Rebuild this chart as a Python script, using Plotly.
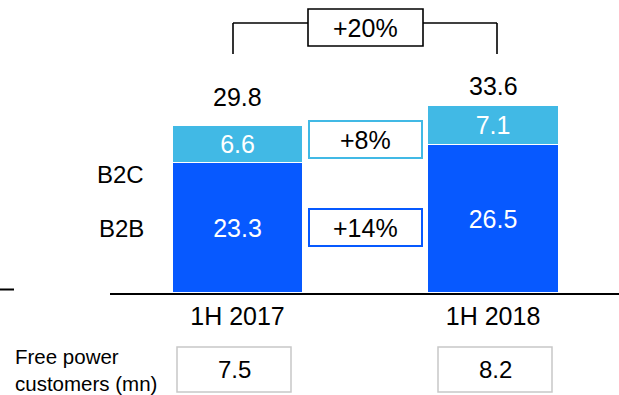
import plotly.graph_objects as go

# ---- data ----
categories = ["1H 2017", "1H 2018"]
b2b = [23.3, 26.5]
b2c = [6.6, 7.1]
totals = [29.8, 33.6]
growth_total = "+20%"
growth_b2c = "+8%"
growth_b2b = "+14%"
free_power = [7.5, 8.2]
free_power_label = "Free power<br>customers (mn)"

# ---- styling ----
W, H = 619, 395
ML, MR, MT, MB = 110, 0, 0, 102
FONT = "Liberation Sans, Arial, sans-serif"
C_B2B = "#0759FF"
C_B2C = "#41B9E5"
PW, PH = W - ML - MR, H - MT - MB


def px(x):
    return (x - ML) / PW


def py(y):
    return (H - MB - y) / PH


fig = go.Figure()
fig.add_trace(go.Bar(
    x=categories, y=b2b, name="B2B", marker=dict(color=C_B2B, line=dict(color="white", width=1.5)),
    text=[f"{v:.1f}" for v in b2b], textposition="inside", insidetextanchor="middle",
    constraintext="none", textfont=dict(color="white", size=25, family=FONT), width=0.513,
    hoverinfo="skip"))
fig.add_trace(go.Bar(
    x=categories, y=b2c, name="B2C", marker=dict(color=C_B2C, line=dict(color="white", width=1.5)),
    text=[f"{v:.1f}" for v in b2c], textposition="inside", insidetextanchor="middle",
    constraintext="none", textfont=dict(color="white", size=25, family=FONT), width=0.513,
    hoverinfo="skip"))

shapes = []
annotations = []

# totals above bars
for cat, t, ys in zip(categories, totals, [13, 3]):
    annotations.append(dict(x=cat, y=t, xref="x", yref="y", text=f"{t:.1f}", showarrow=False,
                            yanchor="bottom", yshift=ys, font=dict(size=25, color="black", family=FONT)))

# bracket for total growth
lw = 1.6
shapes += [
    dict(type="line", xref="paper", yref="paper", x0=px(233), x1=px(233), y0=py(54), y1=py(23),
         line=dict(color="black", width=lw)),
    dict(type="line", xref="paper", yref="paper", x0=px(497), x1=px(497), y0=py(54), y1=py(23),
         line=dict(color="black", width=lw)),
    dict(type="line", xref="paper", yref="paper", x0=px(233), x1=px(308), y0=py(23), y1=py(23),
         line=dict(color="black", width=lw)),
    dict(type="line", xref="paper", yref="paper", x0=px(423), x1=px(497), y0=py(23), y1=py(23),
         line=dict(color="black", width=lw)),
    dict(type="rect", xref="paper", yref="paper", x0=px(308), x1=px(423), y0=py(46), y1=py(9),
         line=dict(color="black", width=lw), fillcolor="white"),
    dict(type="rect", xref="paper", yref="paper", x0=px(309), x1=px(422), y0=py(158), y1=py(121),
         line=dict(color=C_B2C, width=2), fillcolor="white"),
    dict(type="rect", xref="paper", yref="paper", x0=px(309), x1=px(422), y0=py(246), y1=py(209),
         line=dict(color=C_B2B, width=2), fillcolor="white"),
    # small dash at far left
    dict(type="line", xref="paper", yref="paper", x0=px(0), x1=px(14), y0=py(289.5), y1=py(289.5),
         line=dict(color="black", width=2)),
    # free power boxes
    dict(type="rect", xref="paper", yref="paper", x0=px(177), x1=px(291), y0=py(392), y1=py(347),
         line=dict(color="#C8C8C8", width=1.5), fillcolor="white"),
    dict(type="rect", xref="paper", yref="paper", x0=px(438), x1=px(552), y0=py(392), y1=py(347),
         line=dict(color="#C8C8C8", width=1.5), fillcolor="white"),
]

for txt, yc in [(growth_total, 28), (growth_b2c, 140), (growth_b2b, 228)]:
    annotations.append(dict(x=px(365.5), y=py(yc), xref="paper", yref="paper", text=txt, showarrow=False,
                            xanchor="center", yanchor="middle", font=dict(size=25, color="black", family=FONT)))

# series labels on the left
for txt, yc in [("B2C", 174), ("B2B", 228)]:
    annotations.append(dict(x=px(146), y=py(yc), xref="paper", yref="paper", text=txt, showarrow=False,
                            xanchor="right", yanchor="middle", font=dict(size=24, color="black", family=FONT)))

# free power customers
annotations.append(dict(x=px(13), y=py(370), xref="paper", yref="paper", text=free_power_label,
                        showarrow=False, xanchor="left", yanchor="middle", align="left",
                        font=dict(size=20.5, color="black", family=FONT)))
for xc, v in zip([234, 495], free_power):
    annotations.append(dict(x=px(xc), y=py(369.5), xref="paper", yref="paper", text=f"{v:.1f}",
                            showarrow=False, xanchor="center", yanchor="middle",
                            font=dict(size=24, color="black", family=FONT)))

fig.update_layout(
    width=W, height=H, barmode="stack", showlegend=False,
    margin=dict(l=ML, r=MR, t=MT, b=MB, pad=0),
    paper_bgcolor="white", plot_bgcolor="white",
    font=dict(family=FONT, color="black"),
    xaxis=dict(type="category", range=[-0.499, 1.493], showline=True, linecolor="black", linewidth=2,
               showgrid=False, zeroline=False, ticks="", tickfont=dict(size=25, color="black", family=FONT)),
    yaxis=dict(range=[0, PH / 5.6], visible=False, showgrid=False, zeroline=False),
    shapes=shapes, annotations=annotations,
)

fig.write_html("out.html")
